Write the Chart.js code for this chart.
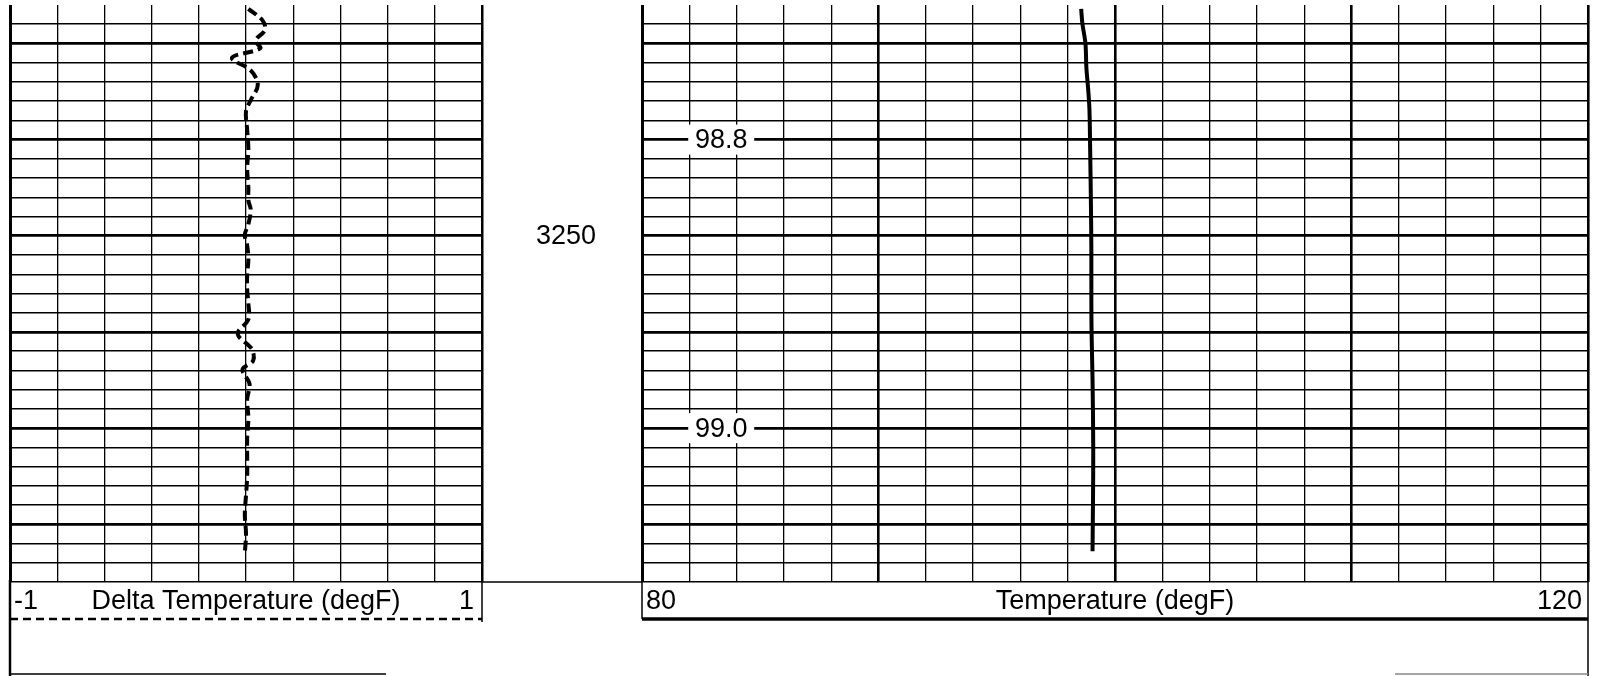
<!DOCTYPE html>
<html>
<head>
<meta charset="utf-8">
<script src="https://cdn.jsdelivr.net/npm/chart.js@4.4.1/dist/chart.umd.min.js"></script>
<style>
  html, body { margin: 0; padding: 0; background: #fff; }
  #wrap { position: relative; width: 1605px; height: 676px; overflow: hidden; background: #fff; }
  canvas { position: absolute; top: 0; }
</style>
</head>
<body>
<div id="wrap">
  <canvas id="left" width="492" height="676" style="left:0px"></canvas>
  <canvas id="depth" width="160" height="676" style="left:482px"></canvas>
  <canvas id="right" width="975" height="676" style="left:630px"></canvas>
</div>
<script>
// ---- data ----
const depthMin = 3226;
const depthMax = 3286;
const depthLabels = [3250];

const deltaMin = -1;
const deltaMax = 1;
const deltaTitle = 'Delta Temperature (degF)';
const deltaDepths = [3226.4, 3227.6, 3228.6, 3229.7, 3230.5, 3231.5, 3232.8, 3234.3, 3235.9, 3237, 3239, 3241, 3243, 3245, 3246.3, 3247.3, 3248.8, 3249.9, 3251, 3252.5, 3254, 3255.6, 3257, 3258.7, 3260.2, 3261.8, 3263, 3263.9, 3265.4, 3267, 3269, 3271, 3273, 3275, 3277, 3279, 3281, 3283];
const deltaValues = [0.01, 0.07, 0.08, 0.04, 0.06, -0.06, 0.02, 0.05, 0.02, 0.0, 0.005, 0.01, 0.005, 0.01, 0.01, 0.02, 0.01, -0.005, 0.005, 0.01, 0.005, 0.005, 0.01, 0.01, -0.035, 0.025, 0.03, -0.015, 0.015, 0.005, 0.01, 0.005, 0.005, 0.005, 0.0, -0.005, 0.0, -0.005];

const tempMin = 80;
const tempMax = 120;
const tempTitle = 'Temperature (degF)';
const tempDepths = [3226.4, 3227.9, 3230, 3232.5, 3234.9, 3236.9, 3241.1, 3246.3, 3251.4, 3256.6, 3260.2, 3264.9, 3272.1, 3277.3, 3282.8];
const tempValues = [98.57, 98.62, 98.75, 98.79, 98.87, 98.92, 98.95, 98.98, 99.0, 99.0, 99.01, 99.05, 99.08, 99.07, 99.05];

const tempNoteDepths = [3240, 3270];
const tempNoteLabels = ['98.8', '99.0'];

// ---- styling helpers ----
const FONT = '27px "Liberation Sans", Arial, sans-serif';
const HEADER_BOTTOM = 94;

function depthScale() {
  return {
    type: 'linear', position: 'left', reverse: true,
    min: depthMin, max: depthMax,
    ticks: { display: false, stepSize: 2 },
    border: { display: false },
    grid: {
      drawTicks: false,
      color: (c) => (c.tick && c.tick.value === depthMin) ? 'rgba(0,0,0,0)' : '#000',
      lineWidth: (c) => (c.tick && c.tick.value % 10 === 0) ? 2.8 : 1.5
    }
  };
}

function zip(xs, ys) { return xs.map((x, i) => ({ x: ys[i], y: x })); }

const baseOpts = {
  responsive: false, animation: false, devicePixelRatio: 1,
  plugins: { legend: { display: false }, tooltip: { enabled: false } },
  indexAxis: 'y'
};

function line(ctx, x1, y1, x2, y2, w, color, dash) {
  ctx.save();
  ctx.beginPath();
  ctx.strokeStyle = color || '#000';
  ctx.lineWidth = w;
  ctx.setLineDash(dash || []);
  ctx.moveTo(x1, y1); ctx.lineTo(x2, y2);
  ctx.stroke();
  ctx.restore();
}

// ---- left track ----
const leftHeader = {
  id: 'leftHeader',
  afterDraw(chart) {
    const { ctx, chartArea: a } = chart;
    const top = a.bottom, yText = a.bottom + 20, yLeg = a.bottom + 37;
    line(ctx, a.left, top - 2, a.left, 676, 2.5);
    line(ctx, a.right, top, a.right, yLeg + 3, 1.5);
    line(ctx, a.left, yLeg, a.right, yLeg, 2.5, '#000', [8, 5]);
    line(ctx, a.left, 674, 386, 674, 1.5);
    ctx.save();
    ctx.fillStyle = '#000';
    ctx.font = FONT;
    ctx.textBaseline = 'middle';
    ctx.textAlign = 'left';
    ctx.fillText(String(deltaMin), a.left + 4, yText);
    ctx.textAlign = 'right';
    ctx.fillText(String(deltaMax), a.right - 8, yText);
    ctx.textAlign = 'center';
    ctx.fillText(deltaTitle, (a.left + a.right) / 2, yText);
    ctx.restore();
  }
};

new Chart(document.getElementById('left'), {
  type: 'line',
  data: { datasets: [{
    data: zip(deltaDepths, deltaValues),
    borderColor: '#000', borderWidth: 4, borderDash: [10, 5],
    pointRadius: 0, tension: 0.35, fill: false
  }] },
  options: Object.assign({}, baseOpts, {
    layout: { padding: { left: 10, top: 5, right: 10, bottom: HEADER_BOTTOM } },
    scales: {
      x: {
        type: 'linear', position: 'bottom', min: deltaMin, max: deltaMax,
        ticks: { display: false, stepSize: 0.2 },
        border: { display: false },
        grid: {
          drawTicks: false, color: '#000',
          lineWidth: (c) => c.index === 0 ? 3 : (c.index === 10 ? 2.5 : 1.3)
        }
      },
      y: depthScale()
    }
  }),
  plugins: [leftHeader]
});

// ---- depth track ----
const depthText = {
  id: 'depthText',
  afterDraw(chart) {
    const { ctx, chartArea: a } = chart;
    const ys = chart.scales.y;
    line(ctx, 0, a.bottom, chart.width, a.bottom, 1.5);
    ctx.save();
    ctx.fillStyle = '#000';
    ctx.font = FONT;
    ctx.textAlign = 'center';
    ctx.textBaseline = 'middle';
    depthLabels.forEach(d => ctx.fillText(String(d), chart.width / 2 + 4, ys.getPixelForValue(d) + 1));
    ctx.restore();
  }
};

new Chart(document.getElementById('depth'), {
  type: 'line',
  data: { datasets: [] },
  options: Object.assign({}, baseOpts, {
    layout: { padding: { left: 0, top: 5, right: 0, bottom: HEADER_BOTTOM } },
    scales: {
      x: { type: 'linear', display: false, min: 0, max: 1 },
      y: Object.assign(depthScale(), { grid: { display: false } })
    }
  }),
  plugins: [depthText]
});

// ---- right track ----
const rightHeader = {
  id: 'rightHeader',
  afterDraw(chart) {
    const { ctx, chartArea: a } = chart;
    const xs = chart.scales.x, ys = chart.scales.y;
    const top = a.bottom, yText = a.bottom + 20, yLeg = a.bottom + 37;
    // annotations
    ctx.save();
    ctx.font = FONT;
    ctx.textAlign = 'center';
    ctx.textBaseline = 'middle';
    tempNoteDepths.forEach((d, i) => {
      const cx = xs.getPixelForValue(83.35), cy = ys.getPixelForValue(d);
      ctx.fillStyle = '#fff';
      ctx.fillRect(cx - 33, cy - 15, 66, 30);
      ctx.fillStyle = '#000';
      ctx.fillText(tempNoteLabels[i], cx, cy + 1);
    });
    ctx.restore();
    line(ctx, a.left, top, a.left, yLeg, 1.5);
    line(ctx, a.right, top, a.right, 676, 1.5);
    line(ctx, a.left, yLeg, a.right, yLeg, 3.5);
    line(ctx, 1395 - 630, 674, a.right, 674, 1.5, '#888');
    ctx.save();
    ctx.fillStyle = '#000';
    ctx.font = FONT;
    ctx.textBaseline = 'middle';
    ctx.textAlign = 'left';
    ctx.fillText(String(tempMin), a.left + 4, yText);
    ctx.textAlign = 'right';
    ctx.fillText(String(tempMax), a.right - 6, yText);
    ctx.textAlign = 'center';
    ctx.fillText(tempTitle, (a.left + a.right) / 2, yText);
    ctx.restore();
  }
};

new Chart(document.getElementById('right'), {
  type: 'line',
  data: { datasets: [{
    data: zip(tempDepths, tempValues),
    borderColor: '#000', borderWidth: 4,
    pointRadius: 0, tension: 0.35, fill: false
  }] },
  options: Object.assign({}, baseOpts, {
    layout: { padding: { left: 12, top: 5, right: 17, bottom: HEADER_BOTTOM } },
    scales: {
      x: {
        type: 'linear', position: 'bottom', min: tempMin, max: tempMax,
        ticks: { display: false, stepSize: 2 },
        border: { display: false },
        grid: {
          drawTicks: false, color: '#000',
          lineWidth: (c) => c.index === 0 ? 3 : (c.tick && c.tick.value % 10 === 0 ? 2.6 : 1.3)
        }
      },
      y: depthScale()
    }
  }),
  plugins: [rightHeader]
});
</script>
</body>
</html>
